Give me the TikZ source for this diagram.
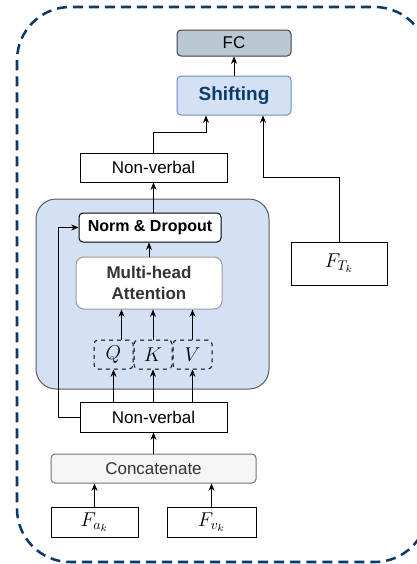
\RequirePackage{fix-cm}
\documentclass[tikz,border=0pt]{standalone}
\usepackage{amsmath}
\usepackage{fontspec}
\setmainfont{Liberation Sans}
\usetikzlibrary{positioning,arrows.meta,calc}
\definecolor{navy}{HTML}{0B3B6B}
\definecolor{paleblue}{HTML}{D4E1F5}
\definecolor{shiftedge}{HTML}{6C8EBF}
\definecolor{fcgray}{HTML}{BAC8D3}
\definecolor{txtgray}{HTML}{333333}

\begin{document}
\begin{tikzpicture}[x=0.75pt,y=-0.75pt,
  sz/.style 2 args={minimum width=#1*0.75pt, minimum height=#2*0.75pt},
  box/.style={draw, line width=0.75pt, fill=white, inner sep=0pt, font=\fontsize{12.75}{15}\selectfont},
  rbox/.style={box, rounded corners=3pt},
  mathbox/.style={font=\fontsize{15}{18}\selectfont},
  arr/.style={-{Stealth[length=5.5pt,width=4.5pt]}, line width=0.6pt}]
  \useasboundingbox (0,0) rectangle (417,564);
  \clip (0,0) rectangle (417,564);
  % outer dashed frame
  \draw[navy, line width=1.9pt, dash pattern=on 7.5pt off 4.5pt, rounded corners=40pt]
    (17,7) rectangle (428,562);
  % attention block
  \node[draw=black!65, fill=paleblue, line width=0.75pt, rounded corners=15pt, sz={233}{190}] (attn) at (152.5,294) {};

  \node[rbox, fill=fcgray, draw=black!75, sz={114}{26}] (fc) at (234,43) {FC};
  \node[rbox, fill=paleblue, draw=shiftedge, text=navy, sz={114}{39},
        font=\fontsize{14.25}{17}\selectfont\bfseries] (shift) at (234,95.5) {Shifting};
  \node[box, sz={147}{29}] (nvtop) at (153.5,167.5) {Non-verbal};
  \node[box, mathbox, sz={96}{43}] (ft) at (339,263.5) {$F_{T_k}$};
  \node[rbox, sz={142}{29}, font=\fontsize{12}{14}\selectfont\bfseries] (norm) at (150,227.5) {Norm \& Dropout};
  \node[box, draw=black!40, rounded corners=6pt, sz={146}{52}, text=txtgray, align=center,
        font=\fontsize{12.75}{16}\selectfont\bfseries] (mha) at (149,283) {Multi-head\\Attention};
  \node[rbox, mathbox, dashed, fill=none, sz={39}{29}] (q) at (113.5,354.5) {$Q$};
  \node[rbox, mathbox, dashed, fill=none, sz={38}{29}] (k) at (153,354.5) {$K$};
  \node[rbox, mathbox, dashed, fill=none, sz={39}{29}] (v) at (192.5,354.5) {$V$};
  \node[box, sz={147}{30}] (nvlow) at (153.5,417) {Non-verbal};
  \node[rbox, fill=black!4, draw=black!55, text=txtgray, sz={205}{29}] (concat) at (153.5,468.5) {Concatenate};
  \node[box, mathbox, sz={87}{30}] (fa) at (94.5,522) {$F_{a_k}$};
  \node[box, mathbox, sz={89}{30}] (fv) at (211.5,522) {$F_{v_k}$};

  % connectors
  \draw[arr] (shift) -- (fc);
  \draw[arr] (nvtop.north) -- ++(0,-20) -| ([xshift=-21pt]shift.south);
  \draw[arr] (ft.north) -- ++(0,-64) -| ([xshift=21.75pt]shift.south);
  \draw[arr] (nvtop.south |- norm.north) -- (nvtop.south);
  \draw[arr] (mha.north) -- (mha.north |- norm.south);
  \draw[arr] ([xshift=6pt]q.north) -- ([xshift=6pt]q.north |- mha.south);
  \foreach \n in {k,v} \draw[arr] (\n.north) -- (\n.north |- mha.south);
  \foreach \n in {q,k,v} \draw[arr] (\n.south |- nvlow.north) -- (\n.south);
  \draw[arr] (nvlow.west) -- ++(-21,0) |- (norm.west);
  \draw[arr] (concat.north) -- (nvlow.south);
  \foreach \n in {fa,fv} \draw[arr] (\n.north) -- (\n.north |- concat.south);
\end{tikzpicture}
\end{document}
